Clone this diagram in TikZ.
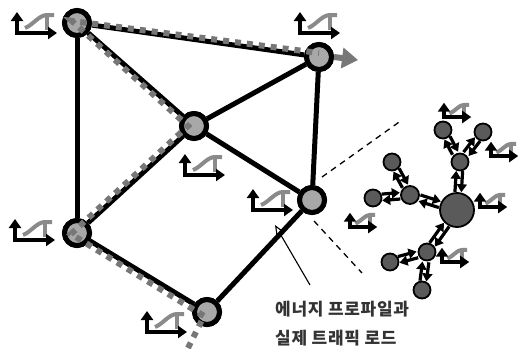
\documentclass[tikz,border=0pt]{standalone}
\usepackage{fontspec}
\newfontfamily\krfont[LetterSpace=4]{Noto Sans CJK KR}
\usetikzlibrary{arrows.meta,calc}

\definecolor{nodegray}{HTML}{A8A8A8}
\definecolor{profgray}{HTML}{777777}
\definecolor{icongray}{HTML}{8A8A8A}
\definecolor{clustergray}{HTML}{5A5A5A}
\definecolor{textgray}{HTML}{333333}

% two opposite arrows between nodes #1 and #2, trimmed by #3 at #1 and #4 at #2
\newcommand\twoway[4]{%
  \draw[clink, shorten <=#3, shorten >=#4] ($(#1)!3.2pt!90:(#2)$) -- ($(#2)!3.2pt!-90:(#1)$);
  \draw[clink, shorten <=#4, shorten >=#3] ($(#2)!3.2pt!90:(#1)$) -- ($(#1)!3.2pt!-90:(#2)$);
}

\begin{document}
\begin{tikzpicture}[x=1pt,y=-1pt,
  site/.style={circle, draw=black, line width=5pt, fill=nodegray, minimum size=25pt, inner sep=0pt},
  link/.style={line width=5pt, black},
  profile/.style={line width=6pt, profgray, dash pattern=on 6pt off 6pt},
  cnode/.style={circle, draw=black, line width=1.8pt, fill=clustergray, inner sep=0pt, minimum size=#1},
  clink/.style={line width=3.2pt, black, -{Triangle[length=8pt,width=10pt]}},
  pointer/.style={line width=1.1pt, black, -{Triangle[open,length=10pt,width=8pt]}},
  label/.style={font=\krfont\bfseries\fontsize{17}{20}\selectfont, text=textgray, inner sep=0pt},
  loadicon/.pic={
    \draw[icongray, line width=4pt] (8,-5) .. controls (16,-8) and (22,-18) .. (30,-18) -- (37,-18);
    \draw[icongray, line width=4pt] (30,-18) -- (30,-3);
    \draw[black, line width=3.2pt, {Triangle[length=9pt,width=12pt]}-{Triangle[length=9pt,width=12pt]}]
      (0,-21) -- (0,0) -- (40,0);
  }
]
\useasboundingbox (0,0) rectangle (518,348);

% network sites
\node[site] (nA) at (77,23) {};
\node[site] (nB) at (319,57) {};
\node[site] (nC) at (194,126) {};
\node[site] (nD) at (312,200) {};
\node[site] (nE) at (77,233) {};
\node[site] (nF) at (207,312) {};

% physical links
\draw[link] (nA) -- (nB);
\draw[link] (nA) -- (nC);
\draw[link] (nA) -- (nE);
\draw[link] (nC) -- (nB);
\draw[link] (nC) -- (nD);
\draw[link] (nC) -- (nE);
\draw[link] (nB) -- (nD);
\draw[link] (nE) -- (nF);
\draw[link] (nF) -- (nD);

% redraw sites above the links
\foreach \s in {nA,nB,nC,nD,nE,nF} \node[site] at (\s) {};

% routing path of the profile
\coordinate (pstart) at (188,348);
\coordinate (pend) at (358,60);
\draw[profile] (pstart) -- ([shift={(-3,4)}]nF.center) -- ([shift={(-6,1)}]nE.center)
  -- ([shift={(-6,0)}]nC.center) -- ([shift={(-5,-2)}]nA.center) -- ([shift={(0,-4)}]nB.center);
\draw[profgray, line width=6pt, -{Triangle[length=16pt,width=20pt]}] (nB.east) -- (pend);

% energy profile / traffic load icons
\pic at (17,33) {loadicon};
\pic at (300,33) {loadicon};
\pic at (185,175) {loadicon};
\pic at (15,240) {loadicon};
\pic at (147,332) {loadicon};
\pic at (253,210) {loadicon};

% zoom-in guides
\coordinate (g1a) at (322,177);
\coordinate (g1b) at (402,120);
\coordinate (g2a) at (314,221);
\coordinate (g2b) at (362,273);
\draw[line width=1.3pt, dash pattern=on 6pt off 5pt] (g1a) -- (g1b);
\draw[line width=1.3pt, dash pattern=on 6pt off 5pt] (g2a) -- (g2b);

% device cluster
\coordinate (big) at (457,210);
\coordinate (th) at (460,162);
\coordinate (tl1) at (443,130);
\coordinate (tl2) at (483,132);
\coordinate (lh) at (410,195);
\coordinate (ll1) at (392,162);
\coordinate (ll2) at (373,198);
\coordinate (bh) at (427,252);
\coordinate (bl1) at (390,262);
\coordinate (bl2) at (422,290);

\twoway{tl1}{th}{9pt}{10pt}
\twoway{tl2}{th}{9pt}{10pt}
\twoway{th}{big}{9pt}{18pt}
\twoway{ll1}{lh}{9pt}{10pt}
\twoway{ll2}{lh}{9pt}{10pt}
\twoway{lh}{big}{10pt}{18pt}
\twoway{bh}{big}{9pt}{18pt}
\twoway{bl1}{bh}{9pt}{10pt}
\twoway{bl2}{bh}{9pt}{10pt}

\node[cnode=34pt] (cBig) at (big) {};
\node[cnode=17pt] (cTh) at (th) {};
\node[cnode=17pt] (cTl1) at (tl1) {};
\node[cnode=17pt] (cTl2) at (tl2) {};
\node[cnode=18pt] (cLh) at (lh) {};
\node[cnode=17pt] (cLl1) at (ll1) {};
\node[cnode=17pt] (cLl2) at (ll2) {};
\node[cnode=17pt] (cBh) at (bh) {};
\node[cnode=17pt] (cBl1) at (bl1) {};
\node[cnode=17pt] (cBl2) at (bl2) {};

\pic[scale=0.68] at (444,117) {loadicon};
\pic[scale=0.68] at (491,156) {loadicon};
\pic[scale=0.68] at (480,207) {loadicon};
\pic[scale=0.68] at (350,227) {loadicon};
\pic[scale=0.68] at (442,262) {loadicon};

% caption and its pointer
\node[label, anchor=base west] (cap1) at (275,315) {에너지 프로파일과};
\node[label, anchor=base west] (cap2) at (275,344) {실제 트래픽 로드};
\coordinate (ptip) at (275,225);
\coordinate (pfoot) at (310,285);
\draw[pointer] (pfoot) -- (ptip);
\end{tikzpicture}
\end{document}
